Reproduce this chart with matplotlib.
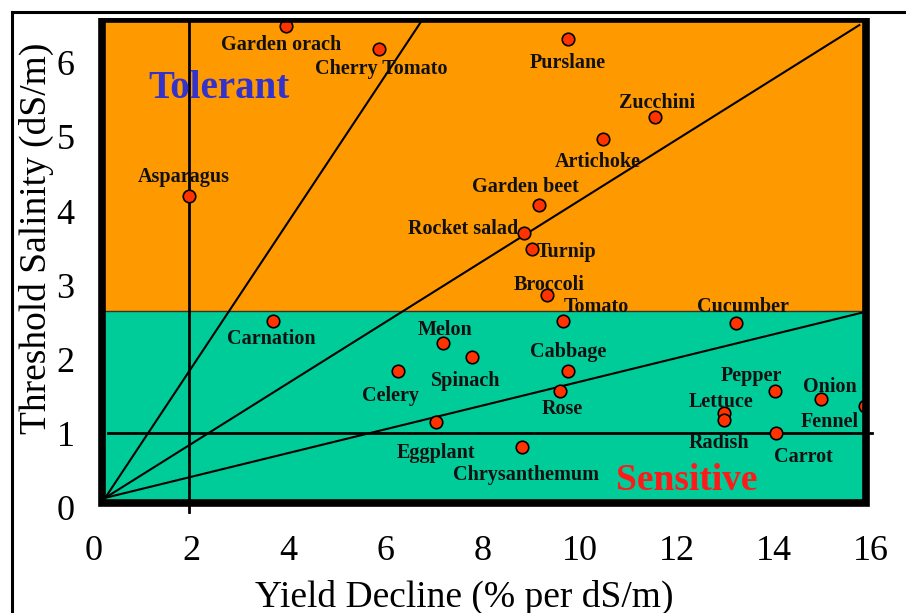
import numpy as np
import matplotlib
matplotlib.use('Agg')
import matplotlib.pyplot as plt
from matplotlib.patches import Rectangle
from matplotlib.lines import Line2D

plt.rcParams['font.family'] = ['Liberation Serif', 'DejaVu Serif']

# crop data
crops = ['Garden orach', 'Cherry Tomato', 'Purslane', 'Zucchini', 'Artichoke',
         'Asparagus', 'Garden beet', 'Rocket salad', 'Turnip', 'Broccoli',
         'Tomato', 'Cucumber', 'Carnation', 'Melon', 'Spinach', 'Celery',
         'Cabbage', 'Rose', 'Eggplant', 'Chrysanthemum', 'Pepper', 'Lettuce',
         'Radish', 'Onion', 'Fennel', 'Carrot']
yield_decline = [3.95, 5.86, 9.77, 11.56, 10.49, 1.95, 9.16, 8.85, 9.01, 9.32,
                 9.65, 13.21, 3.68, 7.18, 7.78, 6.26, 9.77, 9.59, 7.04, 8.81,
                 14.03, 12.98, 12.98, 14.98, 15.88, 14.05]
threshold = [6.50, 6.19, 6.32, 5.27, 4.97, 4.20, 4.08, 3.70, 3.49, 2.87,
             2.52, 2.49, 2.52, 2.22, 2.03, 1.84, 1.84, 1.57, 1.15, 0.82,
             1.57, 1.28, 1.18, 1.46, 1.37, 1.01]

# label offsets from each point (pixels)
label_dx = [-5, 3, -1, 2, -6, -5, -13, -61, 35, 3, 34, 7, -1, 2, -6, -8,
            0, 3, 0, 4, -24, -3, -5, 8, -35, 27]
label_dy = [-19, -20, -24, 14, -23, 19, 18, 4, -3, 10, 14, 16, -18, 13, -24, -25,
            19, -18, -31, -28, 15, 11, -23, 12, -16, -24]

# guide rays from the origin
ray_origin = (0.23, 0.13)
ray_end_x = [6.79, 15.76, 15.82]
ray_end_y = [6.61, 6.51, 2.63]

split_y = 2.65
ref_x = 1.95
ref_y = 1.0

x0, x1, y0, y1 = 0.175, 15.9, 0.054, 6.59

fig = plt.figure(figsize=(9.06, 6.13), dpi=100)
ax = fig.add_axes([94 / 906, 1 - 507.5 / 613, 777 / 906, (507.5 - 18.4) / 613])
ax.set_xlim(0, 16)
ax.set_ylim(0, 6.6)
for s in ax.spines.values():
    s.set_visible(False)
ax.patch.set_visible(False)

ax.add_patch(Rectangle((x0, y0), x1 - x0, split_y - y0, facecolor='#00CC99',
                       edgecolor='none', zorder=0))
ax.add_patch(Rectangle((x0, split_y), x1 - x0, y1 - split_y, facecolor='#FF9900',
                       edgecolor='none', zorder=0))
frame = Rectangle((x0, y0), x1 - x0, y1 - y0, facecolor='none',
                  edgecolor='black', lw=5.5, zorder=6)
ax.add_patch(frame)

ax.plot([x0, x1], [split_y, split_y], color='#333333', lw=1, zorder=1)
for ex, ey in zip(ray_end_x, ray_end_y):
    ax.plot([ray_origin[0], ex], [ray_origin[1], ey], color='black', lw=1.5, zorder=2)
ax.plot([ref_x, ref_x], [-0.06, y1], color='black', lw=2, zorder=2, clip_on=False)
ax.plot([0.29, 16.03], [ref_y, ref_y], color='black', lw=2, zorder=2, clip_on=False)

pts, = ax.plot(yield_decline, threshold, 'o', ms=9, mfc='#FF3300', mec='black',
               mew=1.2, zorder=4)
pts.set_clip_path(frame)

for name, x, y, dx, dy in zip(crops, yield_decline, threshold, label_dx, label_dy):
    ax.annotate(name, (x, y), xytext=(dx, dy), textcoords='offset pixels',
                ha='center', va='center', fontsize=14.5, fontweight='bold',
                color='#111111', zorder=5)

ax.text(2.57, 5.65, 'Tolerant', color='#3333CC', fontsize=28, fontweight='bold',
        ha='center', va='center', zorder=5)
ax.text(12.2, 0.36, 'Sensitive', color='#FF1A1A', fontsize=27, fontweight='bold',
        ha='center', va='center', zorder=5)

ax.set_xticks(np.arange(0, 17, 2))
ax.set_yticks(np.arange(0, 7, 1))
ax.tick_params(axis='both', length=0, labelsize=26)
ax.tick_params(axis='x', pad=20)
ax.tick_params(axis='y', pad=14)

fig.text(464 / 906, 1 - 597 / 613, 'Yield Decline (% per dS/m)', fontsize=27,
         ha='center', va='center')
fig.text(36 / 906, 1 - 238 / 613, 'Threshold Salinity (dS/m)', fontsize=27,
         ha='center', va='center', rotation=90)

fig.add_artist(Line2D([12 / 906, 12 / 906], [0, 1 - 11.5 / 613], color='black',
                      lw=2.2, transform=fig.transFigure))
fig.add_artist(Line2D([12 / 906, 1], [1 - 11.5 / 613, 1 - 11.5 / 613], color='black',
                      lw=2.2, transform=fig.transFigure))

fig.savefig('out.png', dpi=100)
